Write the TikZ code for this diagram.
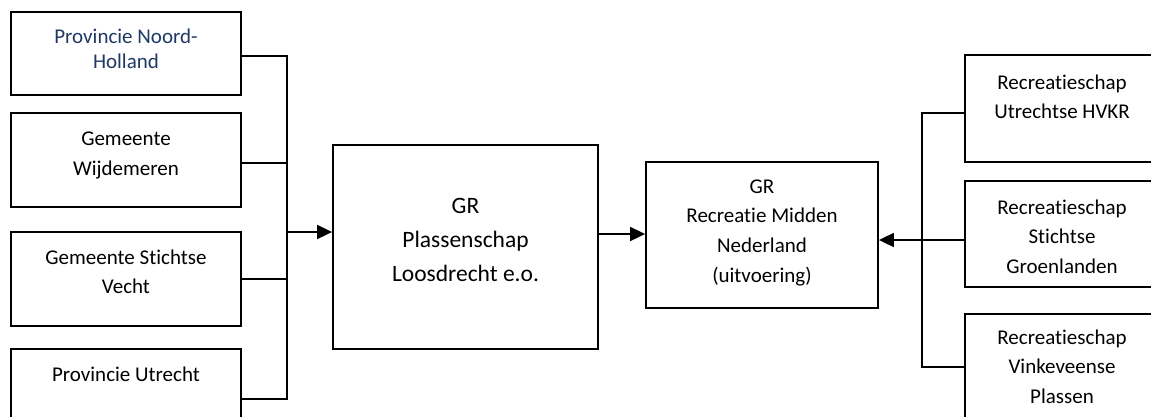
\documentclass[tikz,border=0pt]{standalone}
\usepackage{fontspec}
\setmainfont{Carlito}[Ligatures={NoCommon}]
\usetikzlibrary{arrows.meta}
\definecolor{navy}{RGB}{31,56,100}
\newcommand\stk[2]{\vtop{\baselineskip=#1\relax\lineskiplimit=-100pt\halign{\hfil##\hfil\cr#2\crcr}}}
\begin{document}
\begin{tikzpicture}[x=1pt,y=-1pt,
 box/.style={draw, line width=1.8pt, inner sep=0pt, rectangle},
 txt/.style={anchor=base, inner sep=0pt, font=\fontsize{21}{25}\selectfont},
 wire/.style={line width=1.8pt, line join=miter},
 arr/.style={line width=1.8pt, -{Triangle[length=15pt,width=14pt]}}]
\useasboundingbox (0,0) rectangle (1151,416);
\clip (0,0) rectangle (1151,416);
% left boxes
\node[box, minimum width=230pt, minimum height=83pt] (L1) at (126,53.5) {};
\node[box, minimum width=230pt, minimum height=94pt] (L2) at (126,160) {};
\node[box, minimum width=230pt, minimum height=94pt] (L3) at (126,279) {};
\node[box, minimum width=230pt, minimum height=100pt] (L4) at (126,399) {};
\node[txt, text=navy] (tL1) at (126,43) {\stk{25pt}{Provincie Noord-\cr Holland}};
\node[txt] (tL2) at (126,145) {\stk{30.5pt}{Gemeente\cr Wijdemeren}};
\node[txt] (tL3) at (126,264) {\stk{29pt}{Gemeente Stichtse\cr Vecht}};
\node[txt] (tL4) at (126,381) {Provincie Utrecht};
% main boxes
\node[box, minimum width=265pt, minimum height=204pt] (M) at (465.5,247) {};
\node[txt, font=\fontsize{23.5}{28}\selectfont] (tM) at (465.5,213) {\stk{34pt}{GR\cr Plassenschap\cr Loosdrecht e.o.}};
\node[box, minimum width=232pt, minimum height=146pt] (G) at (762,235) {};
\node[txt] (tG) at (762,193) {\stk{29.7pt}{GR\cr Recreatie Midden\cr Nederland\cr (uitvoering)}};
% right boxes
\node[box, line width=2.8pt, minimum width=194pt, minimum height=107pt] (R1) at (1062,108.5) {};
\node[box, minimum width=194pt, minimum height=106pt] (R2) at (1062,234) {};
\node[box, minimum width=194pt, minimum height=106pt] (R3) at (1062,367) {};
\node[txt] (tR1) at (1062,89) {\stk{29pt}{Recreatieschap\cr Utrechtse HVKR}};
\node[txt] (tR2) at (1062,214) {\stk{29.5pt}{Recreatieschap\cr Stichtse\cr Groenlanden}};
\node[txt] (tR3) at (1062,344) {\stk{29.5pt}{Recreatieschap\cr Vinkeveense\cr Plassen}};
% left bus
\coordinate (bl1) at (287,56);
\coordinate (bl2) at (287,163);
\coordinate (bl3) at (287,279);
\coordinate (bl4) at (287,399);
\coordinate (bla) at (287,232);
\draw[wire] (L1.east |- bl1) -- (bl1) -- (bl4) -- (L4.east |- bl4);
\draw[wire] (L2.east |- bl2) -- (bl2);
\draw[wire] (L3.east |- bl3) -- (bl3);
\draw[arr] (bla) -- (bla -| M.west);
% main to G
\coordinate (mg) at (598,234);
\draw[arr] (M.east |- mg) -- (G.west |- mg);
% right bus
\coordinate (br1) at (922,113);
\coordinate (br2) at (922,240);
\coordinate (br3) at (922,367);
\draw[wire] (R1.west |- br1) -- (br1) -- (br3) -- (R3.west |- br3);
\draw[arr] (R2.west |- br2) -- (G.east |- br2);
\end{tikzpicture}
\end{document}
